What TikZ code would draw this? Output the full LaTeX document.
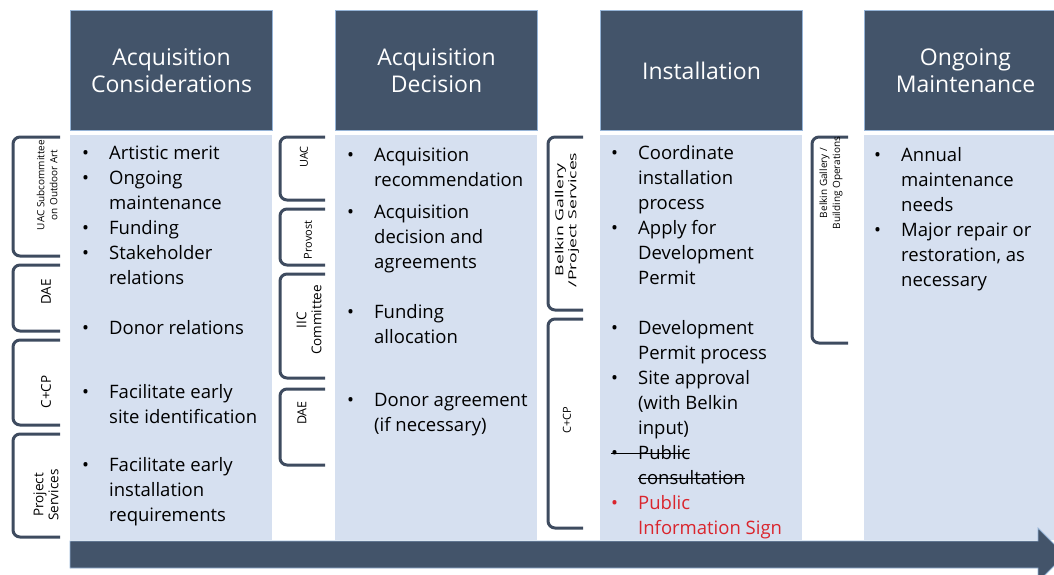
\documentclass[tikz,border=0pt]{standalone}
\usepackage{fontspec}
\setmainfont{Open Sans}
\newfontfamily\tagwide[FakeStretch=1.6]{Open Sans}
\definecolor{headblue}{RGB}{67,84,106}
\definecolor{headline}{RGB}{150,180,215}
\definecolor{bodyblue}{RGB}{214,224,240}
\definecolor{tabgray}{RGB}{62,75,95}
\definecolor{signred}{RGB}{218,37,45}
\newcommand{\bl}{\strut\makebox[27pt][l]{\textbullet}}
\newcommand{\ind}{\hspace*{27pt}}
\newsavebox{\strikebox}
\newcommand{\strike}[1]{\sbox\strikebox{#1}\rlap{\rule[0.27em]{\wd\strikebox}{0.08em}}\usebox\strikebox}
\begin{document}
\begin{tikzpicture}
	[
	x=1pt, y=-1pt,
	head/.style={anchor=north west, fill=headblue, draw=headline, line width=1pt, minimum width=202pt, minimum height=120pt, inner sep=0pt, align=center, text=white, font=\fontsize{23}{27}\selectfont},
	body/.style={anchor=north west, fill=bodyblue, minimum width=202pt, minimum height=405pt, inner sep=0pt},
	item/.style={anchor=north west, align=left, inner sep=0pt, font=\fontsize{18.5}{25}\selectfont},
	tab/.style={draw=tabgray, line width=3pt, rounded corners=7pt},
	tag/.style={rotate=90, align=center, inner sep=0pt, font=\fontsize{11}{13}\selectfont},
	bigtag/.style={tag, font=\fontsize{13.5}{15}\selectfont}
	]
		\clip (0,0) rectangle (1054,575);
		
		% columns
		\node (b1) [body] at (70,135) {};
		\node (b2) [body] at (335,135) {};
		\node (b3) [body] at (600,135) {};
		\node (b4) [body] at (864,135) {};
		
		\node (h1) [head] at (70,10) {Acquisition\\Considerations};
		\node (h2) [head] at (335,10) {Acquisition\\Decision};
		\node (h3) [head] at (600,10) {Installation};
		\node (h4) [head] at (864,10) {Ongoing\\Maintenance};
		
		% timeline
		\draw [fill=headblue, draw=headline, line width=0.8pt] (70,541) -- (1038,541) -- (1038,528) -- (1065,555) -- (1038,582) -- (1038,568) -- (70,568) -- cycle;
		
		% first column
		\node (c1a) [item] at (82,141.5) {\bl Artistic merit};
		\node (c1b) [item] at (82,166.5) {\bl Ongoing\\\ind maintenance};
		\node (c1c) [item] at (82,216.5) {\bl Funding};
		\node (c1d) [item] at (82,241.5) {\bl Stakeholder\\\ind relations};
		\node (c1e) [item] at (82,316.5) {\bl Donor relations};
		\node (c1f) [item] at (82,380.5) {\bl Facilitate early\\\ind site identification};
		\node (c1g) [item] at (82,453.5) {\bl Facilitate early\\\ind installation\\\ind requirements};
		
		% second column
		\node (c2a) [item] at (347,143.5) {\bl Acquisition\\\ind recommendation};
		\node (c2b) [item] at (347,200.5) {\bl Acquisition\\\ind decision and\\\ind agreements};
		\node (c2c) [item] at (347,300.5) {\bl Funding\\\ind allocation};
		\node (c2d) [item] at (347,388.5) {\bl Donor agreement\\\ind (if necessary)};
		
		% third column
		\node (c3a) [item] at (611,141.5) {\bl Coordinate\\\ind installation\\\ind process};
		\node (c3b) [item] at (611,216.5) {\bl Apply for\\\ind Development\\\ind Permit};
		\node (c3c) [item] at (611,316.5) {\bl Development\\\ind Permit process};
		\node (c3d) [item] at (611,366.5) {\bl Site approval\\\ind (with Belkin\\\ind input)};
		\node (c3e) [item] at (611,441.5) {\strike{\bl Public}\\\ind\strike{consultation}};
		\node (c3f) [item, text=signred] at (611,491.5) {\bl Public\\\ind Information Sign};
		
		% fourth column
		\node (c4a) [item] at (874,143.5) {\bl Annual\\\ind maintenance\\\ind needs};
		\node (c4b) [item] at (874,218.5) {\bl Major repair or\\\ind restoration, as\\\ind necessary};
		
		% brackets
		\foreach \l/\r/\t/\b in {13/60/137/256, 13/60/265/331, 13/60/340/425, 13/60/434/537, 280/325/137/200, 280/325/209/265, 280/325/274/378, 280/325/389/465, 548/583/137/310, 548/583/319/528, 812/848/137/343}
			\draw [tab] (\r,\t) -- (\l,\t) -- (\l,\b) -- (\r,\b);
		
		\node (t1) [tag, font=\fontsize{10}{13}\selectfont] at (47,185) {UAC Subcommittee\\on Outdoor Art};
		\node (t2) [bigtag] at (46,292) {DAE};
		\node (t3) [bigtag] at (46,392) {C+CP};
		\node (t4) [bigtag] at (46,495) {Project\\Services};
		\node (t5) [tag] at (304,157) {UAC};
		\node (t6) [tag] at (308,240) {Provost};
		\node (t7) [bigtag] at (309,320) {IIC\\Committee};
		\node (t8) [tag, font=\fontsize{12.5}{15}\selectfont] at (302,413) {DAE};
		\node (t9) [tag, font=\tagwide\fontsize{11}{13}\selectfont] at (567,220) {Belkin Gallery\\/Project Services};
		\node (t10) [tag] at (567,420) {C+CP};
		\node (t11) [tag, font=\fontsize{10}{13}\selectfont] at (831,183) {Belkin Gallery /\\Building Operations};
	\end{tikzpicture}
\end{document}
